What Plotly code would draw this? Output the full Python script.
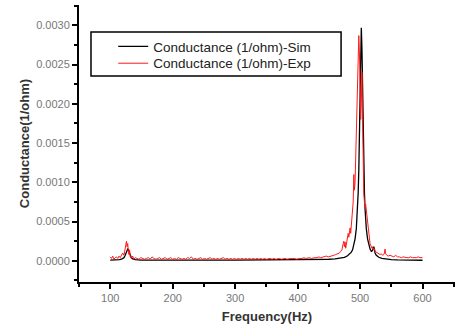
import plotly.graph_objects as go

# Simulated conductance (values in 1e-5 S)
sim_freq = [100, 105, 110, 115, 118, 120, 122, 124, 126, 127, 128, 129, 130, 131, 132, 134, 136, 140,
            150, 175, 200, 250, 300, 350, 400, 420, 440, 450, 460, 470, 475, 480, 483, 486, 488, 490,
            492, 494, 495, 496, 497, 498, 499, 500, 501, 502, 503, 504, 505, 506, 507, 508, 509, 510,
            512, 514, 516, 518, 520, 521, 522, 523, 524, 526, 530, 535, 540, 550, 560, 580, 600]
sim_cond_e5 = [1, 1, 1.2, 1.5, 2, 3, 4, 7, 11, 13, 15, 14.5, 12, 9, 6, 3.5, 2.5, 1.5,
               1, 0.8, 0.8, 0.8, 0.8, 0.9, 1, 1.2, 1.6, 2, 2.5, 3.5, 4.5, 6.5, 8.5, 11, 14, 20,
               28, 41, 52, 66, 87, 116, 158, 214, 271, 297, 271, 214, 158, 116, 87, 66, 52, 41,
               28, 20, 15, 12, 13, 16, 18, 15, 10, 7, 4.5, 3, 2.2, 1.5, 1.1, 0.8, 0.7]

# Experimental conductance (values in 1e-5 S)
exp_freq = [100, 102, 104, 106, 108, 110, 112, 114, 116, 118, 120, 122, 124, 125, 126, 127, 128, 129,
            130, 131, 132, 134, 136, 138, 140, 143, 146, 149, 152, 155, 158, 161, 164, 167, 170, 173,
            176, 179, 182, 185, 188, 191, 194, 197, 200, 203, 206, 209, 212, 215, 218, 221, 224, 227,
            230, 233, 236, 239, 242, 245, 248, 251, 254, 257, 260, 263, 266, 269, 272, 275, 278, 281,
            284, 287, 290, 293, 296, 299, 302, 305, 308, 311, 314, 317, 320, 323, 326, 329, 332, 335,
            338, 341, 344, 347, 350, 353, 356, 359, 362, 365, 368, 371, 374, 377, 380, 383, 386, 389,
            392, 395, 398, 401, 404, 407, 410, 413, 416, 419, 422, 425, 428, 431, 434, 437, 440, 443,
            446, 449, 452, 455, 458, 461, 464, 467, 469, 471, 473, 474, 475, 476, 477, 478, 479, 480,
            481, 482, 483, 484, 485, 486, 487, 488, 489, 490, 491, 492, 493, 494, 495, 496, 497, 498,
            499, 500, 501, 502, 503, 504, 505, 506, 507, 508, 509, 510, 511, 512, 513, 514, 515, 516,
            517, 518, 519, 520, 521, 522, 523, 524, 526, 528, 530, 532, 534, 536, 538, 539, 540, 541,
            543, 545, 548, 551, 554, 557, 560, 563, 566, 569, 572, 575, 578, 581, 584, 587, 590, 593,
            596, 600]
exp_cond_e5 = [5, 3, 6, 2, 4, 5, 3, 6, 4, 8, 10, 7, 15, 20, 25, 18, 22, 12,
               8, 14, 5, 3, 6, 2, 4, 3, 2, 4, 3, 2, 3, 4, 2, 5, 3, 2,
               3, 4, 2, 3, 4, 2, 3, 4, 2, 3, 2, 4, 3, 2, 3, 2, 4, 3,
               5, 2, 3, 2, 3, 4, 2, 3, 2, 3, 4, 2, 3, 2, 3, 2, 3, 4,
               2, 3, 2, 3, 2, 3, 2, 3, 2, 3, 2, 3, 2, 3, 2, 3, 2, 3,
               2, 3, 2, 3, 2, 3, 3, 2, 3, 2, 3, 3, 2, 3, 3, 2, 3, 3,
               3, 3, 2, 3, 3, 3, 4, 3, 4, 4, 3, 4, 4, 4, 5, 4, 5, 5,
               6, 5, 6, 7, 7, 8, 9, 10, 12, 14, 22, 25, 18, 24, 16, 20, 22, 28,
               35, 30, 38, 42, 35, 45, 55, 60, 75, 110, 90, 100, 130, 150, 170, 230, 260, 287,
               265, 230, 180, 200, 240, 180, 110, 85, 75, 68, 72, 65, 55, 45, 38, 30, 28, 22,
               20, 18, 16, 18, 14, 16, 15, 12, 11, 10, 9, 8, 9, 7, 8, 10, 15, 9,
               7, 6, 7, 6, 5, 7, 5, 5, 4, 5, 4, 4, 4, 5, 4, 4, 4, 5,
               4, 4]

sim_cond = [v * 1e-5 for v in sim_cond_e5]
exp_cond = [v * 1e-5 for v in exp_cond_e5]

x_ticks = [100, 200, 300, 400, 500, 600]
y_ticks = [0.0, 0.0005, 0.0010, 0.0015, 0.0020, 0.0025, 0.0030]
y_labels = ["0.0000", "0.0005", "0.0010", "0.0015", "0.0020", "0.0025", "0.0030"]

fig = go.Figure()
fig.add_trace(go.Scatter(x=sim_freq, y=sim_cond, mode="lines",
                         line=dict(color="black", width=1.3),
                         name="Conductance (1/ohm)-Sim", legend="legend"))
fig.add_trace(go.Scatter(x=exp_freq, y=exp_cond, mode="lines",
                         line=dict(color="#ff1a1a", width=1),
                         name="Conductance (1/ohm)-Exp", legend="legend2"))

font_family = "Liberation Sans, Arial, sans-serif"
leg_common = dict(xanchor="left", yanchor="top", bgcolor="rgba(0,0,0,0)", borderwidth=0,
                  font=dict(size=13.5, color="#222"), itemwidth=30)
fig.update_layout(
    width=456, height=329,
    margin=dict(l=79, r=1, t=5, b=47),
    paper_bgcolor="white", plot_bgcolor="white",
    font=dict(family=font_family),
    showlegend=True,
    legend=dict(x=0.091, y=0.906, **leg_common),
    legend2=dict(x=0.091, y=0.845, **leg_common),
    shapes=[dict(type="rect", xref="paper", yref="paper", x0=0.0319, x1=0.697, y0=0.7437, y1=0.9025,
                 line=dict(color="black", width=1.5), fillcolor="white", layer="below")],
    xaxis=dict(range=[50, 652], tickvals=x_ticks, ticks="outside", ticklen=5, tickwidth=1.5,
               tickcolor="black", showline=True, linecolor="black", linewidth=2,
               showgrid=False, zeroline=False,
               tickfont=dict(size=11, color="#777"),
               minor=dict(dtick=50, tick0=50, ticks="outside", ticklen=3, tickwidth=1.5, tickcolor="black"),
               title=dict(text="<b>Frequency(Hz)</b>", font=dict(size=13, color="#333"), standoff=9)),
    yaxis=dict(range=[-0.00027, 0.00326], tickvals=y_ticks, ticktext=y_labels, ticks="outside",
               ticklen=5, tickwidth=1.5, tickcolor="black", showline=True, linecolor="black",
               linewidth=2, showgrid=False, zeroline=False,
               tickfont=dict(size=11, color="#777"),
               minor=dict(dtick=0.00025, tick0=0, ticks="outside", ticklen=3, tickwidth=1.5, tickcolor="black"),
               title=dict(text="<b>Conductance(1/ohm)</b>", font=dict(size=13, color="#333"), standoff=4)),
)

fig.write_html("out.html")
